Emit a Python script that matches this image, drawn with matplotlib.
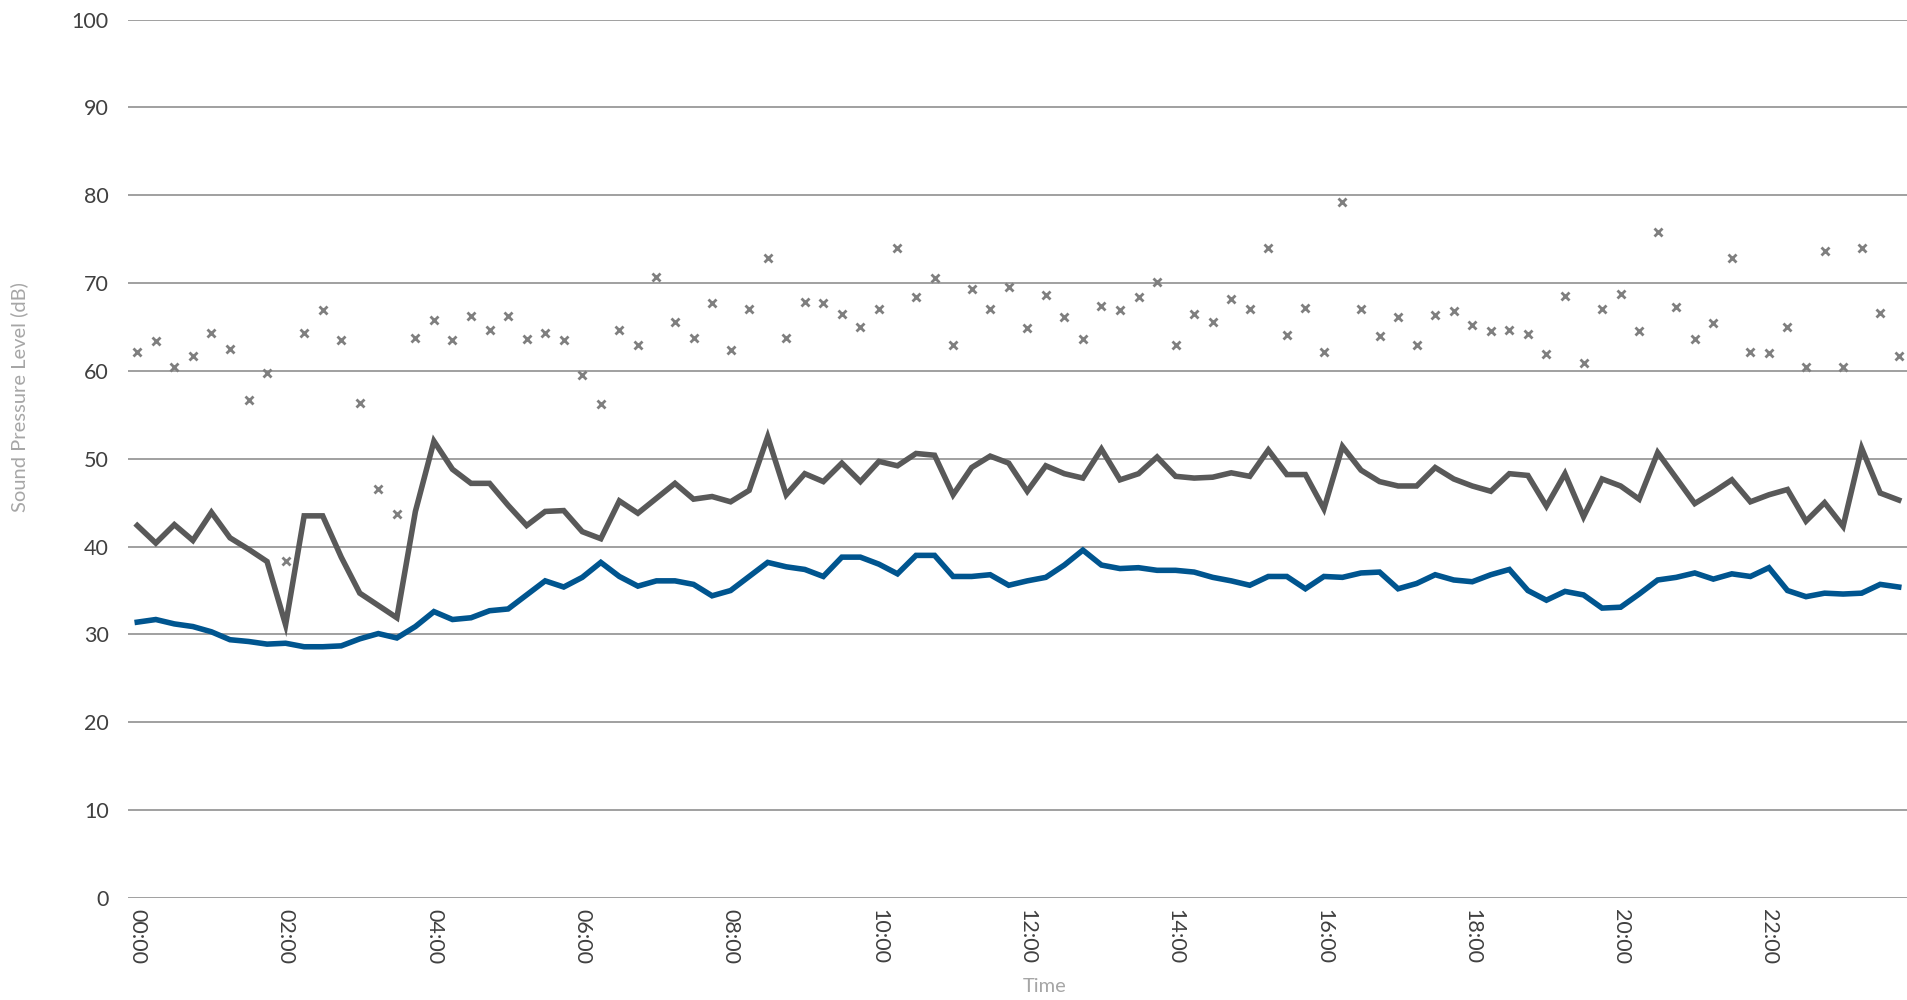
import matplotlib
matplotlib.use("Agg")

import matplotlib.pyplot as plt
import pandas as pd

# 15-minute slots across one day
slots = pd.date_range("2000-01-01 00:00", periods=96, freq="15min").strftime("%H:%M").tolist()

# LAmax per slot (markers)
lamax = [
    62.1, 63.4, 60.5, 61.7, 64.3, 62.5, 56.7, 59.8, 38.4, 64.3, 66.9, 63.5, 56.3, 46.5, 43.7, 63.8,
    65.8, 63.5, 66.3, 64.6, 66.3, 63.6, 64.3, 63.5, 59.5, 56.2, 64.6, 62.9, 70.7, 65.6, 63.7, 67.7,
    62.4, 67.0, 72.8, 63.8, 67.8, 67.7, 66.5, 65.0, 67.0, 74.0, 68.4, 70.6, 62.9, 69.3, 67.1, 69.6,
    64.9, 68.6, 66.1, 63.6, 67.4, 66.9, 68.4, 70.1, 62.9, 66.5, 65.6, 68.2, 67.1, 74.0, 64.1, 67.2,
    62.1, 79.2, 67.0, 64.0, 66.1, 62.9, 66.4, 66.8, 65.2, 64.5, 64.6, 64.2, 61.9, 68.5, 60.9, 67.0,
    68.8, 64.5, 75.8, 67.3, 63.6, 65.4, 72.8, 62.2, 62.0, 65.0, 60.5, 73.6, 60.4, 74.0, 66.6, 61.7,
]

# LAeq per slot (grey line)
laeq = [
    42.4, 40.4, 42.5, 40.7, 43.9, 41.0, 39.7, 38.3, 31.1, 43.5, 43.5, 38.8, 34.7, 33.3, 31.9, 44.0,
    52.0, 48.8, 47.2, 47.2, 44.7, 42.4, 44.0, 44.1, 41.7, 40.9, 45.2, 43.8, 45.5, 47.2, 45.4, 45.7,
    45.1, 46.4, 52.5, 45.9, 48.3, 47.4, 49.5, 47.4, 49.7, 49.2, 50.6, 50.4, 45.9, 49.0, 50.3, 49.5,
    46.3, 49.2, 48.3, 47.8, 51.1, 47.6, 48.3, 50.2, 48.0, 47.8, 47.9, 48.4, 48.0, 51.0, 48.2, 48.2,
    44.3, 51.4, 48.7, 47.4, 46.9, 46.9, 49.0, 47.7, 46.9, 46.3, 48.3, 48.1, 44.6, 48.3, 43.4, 47.7,
    46.9, 45.4, 50.7, 47.8, 44.9, 46.2, 47.6, 45.1, 45.9, 46.5, 42.9, 45.0, 42.3, 51.2, 46.1, 45.3,
]

# LA90 per slot (blue line)
la90 = [
    31.4, 31.7, 31.2, 30.9, 30.3, 29.4, 29.2, 28.9, 29.0, 28.6, 28.6, 28.7, 29.5, 30.1, 29.6, 30.9,
    32.6, 31.7, 31.9, 32.7, 32.9, 34.5, 36.1, 35.4, 36.5, 38.2, 36.6, 35.5, 36.1, 36.1, 35.7, 34.4,
    35.0, 36.6, 38.2, 37.7, 37.4, 36.6, 38.8, 38.8, 38.0, 36.9, 39.0, 39.0, 36.6, 36.6, 36.8, 35.6,
    36.1, 36.5, 37.9, 39.6, 37.9, 37.5, 37.6, 37.3, 37.3, 37.1, 36.5, 36.1, 35.6, 36.6, 36.6, 35.2,
    36.6, 36.5, 37.0, 37.1, 35.2, 35.8, 36.8, 36.2, 36.0, 36.8, 37.4, 35.0, 33.9, 34.9, 34.5, 33.0,
    33.1, 34.6, 36.2, 36.5, 37.0, 36.3, 36.9, 36.6, 37.6, 35.0, 34.3, 34.7, 34.6, 34.7, 35.7, 35.4,
]

y_ticks = list(range(0, 101, 10))

TEXT = "#404040"
LIGHT = "#a6a6a6"
GRID = "#a0a0a0"

plt.rcParams["font.family"] = ["Lato", "DejaVu Sans"]

fig = plt.figure(figsize=(19.08, 10), dpi=100)
ax = fig.add_axes([128 / 1908, 0.102, 1 - 128 / 1908, 0.8785])

x = list(range(len(slots)))
ax.plot(x, laeq, color="#595959", lw=4.0, solid_joinstyle="miter", zorder=3)
ax.plot(x, la90, color="#00558f", lw=4.0, solid_joinstyle="miter", zorder=3)
ax.plot(x, lamax, ls="none", marker="x", ms=6, mew=2.0, color="#7f7f7f", zorder=4)

ax.set_xlim(-0.5, len(slots) - 0.5)
ax.set_ylim(0, 100)
ax.set_yticks(y_ticks)
ax.set_xticks(x[::8])
ax.set_xticklabels(slots[::8], rotation=-90)

ax.grid(axis="y", color=GRID, lw=1.4)
ax.set_axisbelow(True)
for s in ax.spines.values():
    s.set_visible(False)

ax.tick_params(axis="both", length=0, labelsize=15.5, labelcolor=TEXT)
ax.tick_params(axis="y", pad=14)
ax.tick_params(axis="x", pad=8)

ax.set_xlabel("Time", fontsize=14.5, color=LIGHT)
ax.xaxis.set_label_coords(0.515, -0.091)
ax.set_ylabel("Sound Pressure Level (dB)", fontsize=14.5, color=LIGHT)
ax.yaxis.set_label_coords(-0.056, 0.57)

fig.savefig("out.png", dpi=100)
